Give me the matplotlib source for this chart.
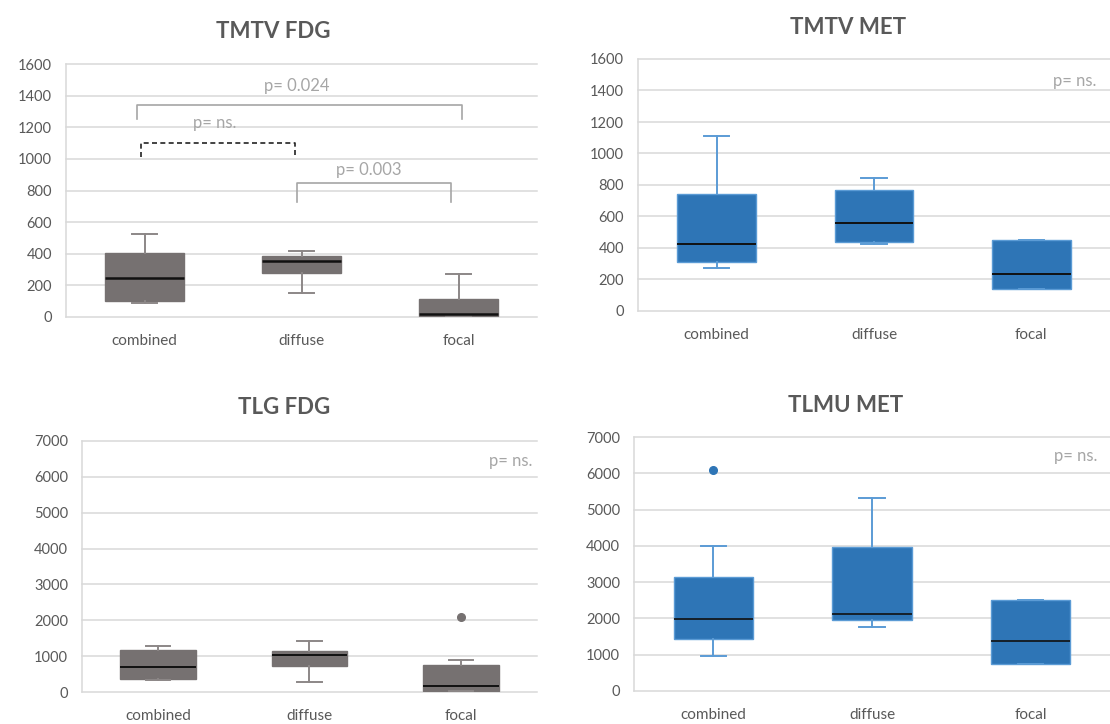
import matplotlib
matplotlib.use("Agg")
import matplotlib.pyplot as plt

plt.rcParams['font.family'] = ['Lato', 'DejaVu Sans']

W, H = 1110, 724

groups = ["combined", "diffuse", "focal"]

# five-number summaries per group: low whisker, Q1, median, Q3, high whisker
tmtv_fdg_lo = [88, 152, 5]
tmtv_fdg_q1 = [99, 278, 8]
tmtv_fdg_med = [244, 354, 21]
tmtv_fdg_q3 = [404, 383, 116]
tmtv_fdg_hi = [524, 417, 272]
tmtv_fdg_out = [[], [], []]

tmtv_met_lo = [271, 424, 142]
tmtv_met_q1 = [311, 439, 142]
tmtv_met_med = [424, 561, 237]
tmtv_met_q3 = [741, 769, 451]
tmtv_met_hi = [1108, 843, 451]
tmtv_met_out = [[], [], []]

tlg_fdg_lo = [330, 270, 20]
tlg_fdg_q1 = [353, 725, 30]
tlg_fdg_med = [697, 1022, 158]
tlg_fdg_q3 = [1180, 1152, 743]
tlg_fdg_hi = [1292, 1422, 892]
tlg_fdg_out = [[], [], [2091]]

tlmu_met_lo = [966, 1766, 754]
tlmu_met_q1 = [1444, 1950, 754]
tlmu_met_med = [1978, 2116, 1371]
tlmu_met_q3 = [3155, 3965, 2511]
tlmu_met_hi = [4002, 5327, 2511]
tlmu_met_out = [[6081], [], []]

# significance brackets for TMTV FDG: (x left, x right, y top, y leg end, label, label x, label y, dashed)
brackets = [
    (-0.05, 2.02, 1341, 1253, "p= 0.024", 0.97, 1461, False),
    (-0.02, 0.96, 1103, 1015, "p= ns.", 0.45, 1229, True),
    (0.97, 1.95, 846, 730, "p= 0.003", 1.43, 930, False),
]

GRAY = "#767171"
BLUE = "#2E75B6"
LIGHT_BLUE = "#5B9BD5"
TEXT = "#595959"
PTEXT = "#A6A6A6"
GRID = "#D9D9D9"


def make_stats(lo, q1, med, q3, hi, out):
    return [dict(whislo=lo[i], q1=q1[i], med=med[i], q3=q3[i], whishi=hi[i],
                 fliers=out[i], label=groups[i]) for i in range(len(groups))]


def add_panel(px, title, title_xy, stats, ymax, ystep, face, edge, whisk, med_lw):
    x0, y_top, x1, y_bot = px
    ax = fig.add_axes([x0 / W, 1 - y_bot / H, (x1 - x0) / W, (y_bot - y_top) / H])
    ax.bxp(stats, positions=range(len(groups)), widths=0.5, patch_artist=True,
           showfliers=True,
           boxprops=dict(facecolor=face, edgecolor=edge, linewidth=1.0),
           whiskerprops=dict(color=whisk, linewidth=1.4),
           capprops=dict(color=whisk, linewidth=1.4),
           capwidths=0.16,
           medianprops=dict(color="#111111", linewidth=med_lw),
           flierprops=dict(marker="o", markersize=5.5, markerfacecolor=face,
                           markeredgecolor=face))
    ax.set_xlim(-0.5, len(groups) - 0.5)
    ax.set_ylim(0, ymax)
    ax.set_yticks(range(0, ymax + 1, ystep))
    ax.yaxis.grid(True, color=GRID, linewidth=1.1)
    ax.set_axisbelow(True)
    for s in ["top", "right", "bottom"]:
        ax.spines[s].set_visible(False)
    ax.spines["left"].set_color(GRID)
    ax.spines["left"].set_linewidth(1.1)
    ax.tick_params(length=0, labelcolor=TEXT)
    ax.tick_params(axis="y", labelsize=10.5, pad=10)
    ax.tick_params(axis="x", labelsize=11, pad=12)
    for g in ax.get_ygridlines():
        g.set_clip_on(False)
    fig.text(title_xy[0] / W, 1 - title_xy[1] / H, title, ha="center", va="center",
             fontsize=16, fontweight="bold", color=TEXT)
    return ax


fig = plt.figure(figsize=(W / 100, H / 100), dpi=100)

ax1 = add_panel((66, 64, 537, 317), "TMTV FDG", (273, 32),
                make_stats(tmtv_fdg_lo, tmtv_fdg_q1, tmtv_fdg_med, tmtv_fdg_q3, tmtv_fdg_hi, tmtv_fdg_out),
                1600, 200, GRAY, GRAY, "#8C8787", 1.8)
for xl, xr, ytop, yleg, label, tx, ty, dashed in brackets:
    if dashed:
        ax1.plot([xl, xl, xr, xr], [yleg, ytop, ytop, yleg], color="#222222",
                 linewidth=1.2, linestyle=(0, (3, 2)))
    else:
        ax1.plot([xl, xl, xr, xr], [yleg, ytop, ytop, yleg], color=PTEXT,
                 linewidth=1.2, solid_joinstyle="round")
    ax1.text(tx, ty, label, ha="center", va="center", fontsize=12, color=PTEXT)

ax2 = add_panel((638, 59, 1110, 311), "TMTV MET", (848, 28),
                make_stats(tmtv_met_lo, tmtv_met_q1, tmtv_met_med, tmtv_met_q3, tmtv_met_hi, tmtv_met_out),
                1600, 200, BLUE, LIGHT_BLUE, LIGHT_BLUE, 1.4)
ax2.text(0.972, 1462, "p= ns.", transform=ax2.get_yaxis_transform(), ha="right",
         va="center", fontsize=12, color=PTEXT)

ax3 = add_panel((82, 441, 537, 692), "TLG FDG", (284, 408),
                make_stats(tlg_fdg_lo, tlg_fdg_q1, tlg_fdg_med, tlg_fdg_q3, tlg_fdg_hi, tlg_fdg_out),
                7000, 1000, GRAY, GRAY, "#8C8787", 1.4)
ax3.text(0.989, 6440, "p= ns.", transform=ax3.get_yaxis_transform(), ha="right",
         va="center", fontsize=12, color=PTEXT)

ax4 = add_panel((634, 437, 1110, 691), "TLMU MET", (846, 406),
                make_stats(tlmu_met_lo, tlmu_met_q1, tlmu_met_med, tlmu_met_q3, tlmu_met_hi, tlmu_met_out),
                7000, 1000, BLUE, LIGHT_BLUE, LIGHT_BLUE, 1.2)
ax4.text(0.973, 6467, "p= ns.", transform=ax4.get_yaxis_transform(), ha="right",
         va="center", fontsize=12, color=PTEXT)

fig.savefig("out.png", dpi=100, facecolor="white")
